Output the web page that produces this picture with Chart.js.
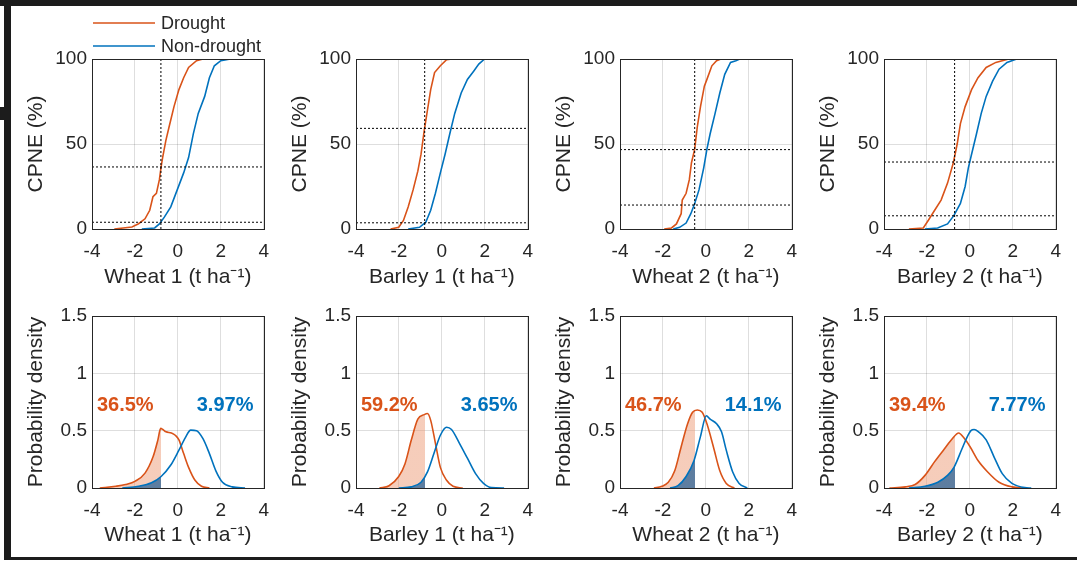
<!DOCTYPE html>
<html>
<head>
<meta charset="utf-8">
<script src="https://cdn.jsdelivr.net/npm/chart.js@4.4.1/dist/chart.umd.min.js"></script>
<style>
  html, body { margin: 0; padding: 0; background: #fff; }
  #page { position: relative; width: 1077px; height: 563px; overflow: hidden; background: #fff; }
  #page canvas { position: absolute; }
  .frame { position: absolute; background: #1c1c1c; z-index: 5; }
</style>
</head>
<body>
<div id="page">
  <div class="frame" style="left:0;top:0;width:1077px;height:6px"></div>
  <div class="frame" style="left:4px;top:0;width:7px;height:560px"></div>
  <div class="frame" style="left:0;top:107px;width:11px;height:13px"></div>
  <div class="frame" style="left:4px;top:557px;width:1073px;height:3px"></div>
</div>
<script>
// panels, left to right
var crops = ["Wheat 1", "Barley 1", "Wheat 2", "Barley 2"];
var thresholds = [-0.79, -0.8, -0.52, -0.71];
var droughtPct = [36.5, 59.2, 46.7, 39.4];
var nonDroughtPct = [3.97, 3.65, 14.1, 7.77];

// CPNE curves, [yield anomaly, %]
var wheat1DroughtCdf = [[-2.96,0],[-2.14,1.2],[-1.83,3.1],[-1.53,6],[-1.31,11],[-1.16,19],[-1.0,21],[-0.86,29],[-0.78,36.5],[-0.71,42],[-0.56,52],[-0.41,60],[-0.18,72],[0.05,82],[0.27,89],[0.5,95],[0.87,99],[1.17,100],[1.62,100]];
var wheat1NonCdf = [[-1.68,0],[-1.08,0.6],[-0.86,3],[-0.63,7],[-0.33,13],[-0.03,23],[0.27,33],[0.5,42],[0.72,56],[0.95,68],[1.25,78],[1.47,89],[1.7,96],[2.0,99],[2.45,100]];
var barley1DroughtCdf = [[-2.39,0],[-2.01,1],[-1.79,5],[-1.57,13],[-1.34,23],[-1.12,34],[-0.97,44],[-0.82,58],[-0.67,70],[-0.52,82],[-0.34,92],[-0.07,96],[0.22,99.6],[0.48,100]];
var barley1NonCdf = [[-1.57,0],[-1.04,1],[-0.75,4],[-0.52,11],[-0.3,21],[-0.07,33],[0.15,44],[0.37,56],[0.6,68],[0.9,80],[1.19,88],[1.49,93],[1.72,97],[1.99,100],[2.31,100]];
var wheat2DroughtCdf = [[-1.94,0],[-1.6,0.6],[-1.37,3],[-1.15,9],[-1.1,17],[-0.92,21],[-0.77,29],[-0.67,39],[-0.52,47],[-0.4,60],[-0.25,72],[-0.07,84],[0.05,88],[0.28,96],[0.5,99],[0.7,100]];
var wheat2NonCdf = [[-1.52,0],[-1.22,1],[-0.92,3.5],[-0.7,9],[-0.52,15],[-0.32,23],[-0.1,36],[0.05,47],[0.2,56],[0.43,68],[0.65,80],[0.88,91],[1.15,98],[1.4,99],[1.58,100]];
var barley2DroughtCdf = [[-2.84,0],[-2.17,0.6],[-1.94,5],[-1.64,11],[-1.34,17],[-1.04,27],[-0.77,39],[-0.59,50],[-0.44,62],[-0.22,72],[0.08,82],[0.38,89],[0.76,95],[1.21,98],[1.81,100]];
var barley2NonCdf = [[-2.1,0],[-1.5,0.6],[-1.04,3],[-0.74,8],[-0.44,15],[-0.22,25],[-0.07,36],[0.08,44],[0.31,56],[0.53,68],[0.76,78],[1.06,87],[1.36,94],[1.73,98],[2.18,100]];

// probability density curves, [yield anomaly, density]
var wheat1DroughtPdf = [[-3.64,0],[-2.89,0.015],[-2.44,0.03],[-1.98,0.06],[-1.53,0.13],[-1.16,0.27],[-0.93,0.42],[-0.8,0.52],[-0.7,0.51],[-0.55,0.49],[-0.3,0.48],[-0.12,0.46],[0.05,0.42],[0.27,0.3],[0.5,0.18],[0.8,0.067],[1.1,0.015],[1.47,0]];
var wheat1NonPdf = [[-2.59,0],[-1.83,0.015],[-1.23,0.045],[-0.78,0.1],[-0.33,0.2],[0.05,0.33],[0.35,0.44],[0.6,0.505],[0.87,0.5],[1.17,0.43],[1.47,0.3],[1.77,0.15],[2.08,0.05],[2.53,0.01],[3.13,0]];
var barley1DroughtPdf = [[-2.91,0],[-2.46,0.02],[-2.01,0.1],[-1.72,0.21],[-1.42,0.42],[-1.12,0.6],[-0.82,0.64],[-0.67,0.65],[-0.52,0.59],[-0.3,0.39],[-0.07,0.18],[0.22,0.067],[0.52,0.015],[0.97,0]];
var barley1NonPdf = [[-2.01,0],[-1.42,0.01],[-0.97,0.05],[-0.67,0.14],[-0.37,0.3],[-0.07,0.46],[0.22,0.53],[0.45,0.51],[0.82,0.39],[1.19,0.26],[1.57,0.125],[1.94,0.04],[2.31,0.003],[2.9,0]];
var wheat2DroughtPdf = [[-2.42,0],[-2.05,0.015],[-1.75,0.05],[-1.45,0.15],[-1.15,0.36],[-0.85,0.56],[-0.62,0.66],[-0.4,0.68],[-0.17,0.66],[0.05,0.56],[0.35,0.36],[0.65,0.15],[0.95,0.04],[1.33,0]];
var wheat2NonPdf = [[-1.67,0],[-1.3,0.02],[-0.92,0.1],[-0.55,0.24],[-0.25,0.45],[0.02,0.63],[0.2,0.6],[0.5,0.56],[0.73,0.49],[0.95,0.33],[1.25,0.14],[1.55,0.04],[1.93,0]];
var barley2DroughtPdf = [[-3.75,0],[-3.0,0.01],[-2.55,0.03],[-2.09,0.11],[-1.64,0.23],[-1.19,0.34],[-0.82,0.43],[-0.52,0.48],[-0.29,0.44],[0.01,0.36],[0.38,0.24],[0.83,0.14],[1.36,0.05],[1.96,0.01],[2.56,0]];
var barley2NonPdf = [[-2.84,0],[-2.09,0.015],[-1.49,0.05],[-1.04,0.11],[-0.74,0.18],[-0.37,0.34],[-0.14,0.44],[0.05,0.5],[0.2,0.51],[0.4,0.49],[0.76,0.42],[1.13,0.27],[1.51,0.125],[1.96,0.04],[2.56,0.003],[2.86,0]];

var droughtCdf = [wheat1DroughtCdf, barley1DroughtCdf, wheat2DroughtCdf, barley2DroughtCdf];
var nonCdf = [wheat1NonCdf, barley1NonCdf, wheat2NonCdf, barley2NonCdf];
var droughtPdf = [wheat1DroughtPdf, barley1DroughtPdf, wheat2DroughtPdf, barley2DroughtPdf];
var nonPdf = [wheat1NonPdf, barley1NonPdf, wheat2NonPdf, barley2NonPdf];

var ORANGE = "#D95319";
var BLUE = "#0072BD";
var TEXT = "#262626";
var GRID = "rgba(0,0,0,0.13)";
var FONT = "'Liberation Sans', Arial, Helvetica, sans-serif";
var plotLefts = [92, 356, 620, 884];
var PLOT_W = 178, YAXIS_W = 68, PAD_R = 10;

Chart.defaults.font.family = FONT;
Chart.defaults.color = TEXT;

function pts(arr) {
  return arr.map(function (p) { return { x: p[0], y: p[1] }; });
}

// fill colour that stops at the threshold
function shadeUpTo(color, thr) {
  return function (context) {
    var chart = context.chart;
    var a = chart.chartArea;
    if (!a || !chart.scales.x) return color;
    var xp = chart.scales.x.getPixelForValue(thr);
    var t = Math.max(0, Math.min(1, (xp - a.left) / (a.right - a.left)));
    var g = chart.ctx.createLinearGradient(a.left, 0, a.right, 0);
    g.addColorStop(0, color);
    g.addColorStop(t, color);
    g.addColorStop(t, "rgba(255,255,255,0)");
    g.addColorStop(1, "rgba(255,255,255,0)");
    return g;
  };
}

var boxPlugin = {
  id: "box",
  afterDraw: function (chart) {
    var a = chart.chartArea, ctx = chart.ctx;
    ctx.save();
    ctx.strokeStyle = TEXT;
    ctx.lineWidth = 1;
    ctx.strokeRect(Math.round(a.left) + 0.5, Math.round(a.top) + 0.5,
      Math.round(a.right) - Math.round(a.left), Math.round(a.bottom) - Math.round(a.top));
    ctx.restore();
  }
};

var legendPlugin = {
  id: "topLegend",
  afterDraw: function (chart) {
    var a = chart.chartArea, ctx = chart.ctx;
    var items = [[chart.data.datasets[0].label, ORANGE, a.top - 36], [chart.data.datasets[1].label, BLUE, a.top - 13]];
    ctx.save();
    ctx.font = "18px " + FONT;
    ctx.textBaseline = "middle";
    ctx.fillStyle = TEXT;
    items.forEach(function (it) {
      ctx.strokeStyle = it[1];
      ctx.lineWidth = 1.6;
      ctx.beginPath();
      ctx.moveTo(a.left + 1, it[2]);
      ctx.lineTo(a.left + 63, it[2]);
      ctx.stroke();
      ctx.fillText(it[0], a.left + 69, it[2] + 1);
    });
    ctx.restore();
  }
};

function pctPlugin(i) {
  return {
    id: "pct" + i,
    afterDraw: function (chart) {
      var ctx = chart.ctx, xs = chart.scales.x, ys = chart.scales.y;
      ctx.save();
      ctx.font = "bold 20px " + FONT;
      ctx.textAlign = "center";
      ctx.textBaseline = "middle";
      ctx.fillStyle = ORANGE;
      ctx.fillText(droughtPct[i] + "%", xs.getPixelForValue(-2.45), ys.getPixelForValue(0.72));
      ctx.fillStyle = BLUE;
      ctx.fillText(nonDroughtPct[i] + "%", xs.getPixelForValue(2.2), ys.getPixelForValue(0.72));
      ctx.restore();
    }
  };
}

function axes(i, top) {
  return {
    x: {
      type: "linear", min: -4, max: 4,
      afterFit: function (s) { s.height = top ? 61 : 60; },
      ticks: { stepSize: 2, padding: 11, autoSkip: false, maxRotation: 0, color: TEXT, font: { size: 19 } },
      grid: { color: GRID, drawTicks: false },
      border: { color: TEXT },
      title: { display: true, text: crops[i] + " (t ha\u207B\u00B9)", color: TEXT, font: { size: 21 }, padding: 0 }
    },
    y: {
      type: "linear", min: 0, max: top ? 100 : 1.5,
      afterFit: function (s) { s.width = YAXIS_W; },
      ticks: {
        stepSize: top ? 50 : 0.5, padding: 5, color: TEXT, font: { size: 19 },
        callback: function (v) { return String(v); }
      },
      grid: { color: GRID, drawTicks: false },
      border: { color: TEXT },
      title: { display: true, text: top ? "CPNE (%)" : "Probability density", color: TEXT, font: { size: 21 }, padding: 0 }
    }
  };
}

function makeCanvas(left, top, w, h) {
  var c = document.createElement("canvas");
  c.width = w; c.height = h;
  c.style.left = left + "px"; c.style.top = top + "px";
  c.style.width = w + "px"; c.style.height = h + "px";
  document.getElementById("page").appendChild(c);
  return c;
}

var lineBase = { pointRadius: 0, borderWidth: 1.6, fill: false, tension: 0 };
function line(label, data, color, order, extra) {
  return Object.assign({ label: label, data: data, borderColor: color, order: order }, lineBase, extra || {});
}
function dotted(data) {
  return line("", data, "#000", 0, { borderWidth: 1, borderDash: [2, 2] });
}

for (var i = 0; i < 4; i++) {
  var w = PLOT_W + YAXIS_W + PAD_R;
  var thr = thresholds[i];

  // top row: CPNE
  var topPlugins = [boxPlugin];
  if (i === 0) topPlugins.push(legendPlugin);
  new Chart(makeCanvas(plotLefts[i] - YAXIS_W, 0, w, 290), {
    type: "line",
    data: {
      datasets: [
        line("Drought", pts(droughtCdf[i]), ORANGE, 2),
        line("Non-drought", pts(nonCdf[i]), BLUE, 1),
        dotted([{ x: thr, y: 0 }, { x: thr, y: 100 }]),
        dotted([{ x: -4, y: droughtPct[i] }, { x: 4, y: droughtPct[i] }]),
        dotted([{ x: -4, y: nonDroughtPct[i] }, { x: 4, y: nonDroughtPct[i] }])
      ]
    },
    options: {
      responsive: false, animation: false, devicePixelRatio: 1,
      layout: { padding: { top: 59, right: PAD_R, left: 0, bottom: 0 } },
      plugins: { legend: { display: false }, tooltip: { enabled: false } },
      scales: axes(i, true)
    },
    plugins: topPlugins
  });

  // bottom row: probability density
  var smooth = { tension: 0.4, cubicInterpolationMode: "monotone" };
  new Chart(makeCanvas(plotLefts[i] - YAXIS_W, 290, w, 258), {
    type: "line",
    data: {
      datasets: [
        line("", pts(droughtPdf[i]), "rgba(0,0,0,0)", 4, Object.assign({ borderWidth: 0, fill: "origin",
          backgroundColor: shadeUpTo("rgba(236,150,112,0.48)", thr) }, smooth)),
        line("", pts(nonPdf[i]), "rgba(0,0,0,0)", 3, Object.assign({ borderWidth: 0, fill: "origin",
          backgroundColor: shadeUpTo("rgba(35,95,150,0.72)", thr) }, smooth)),
        line("Drought", pts(droughtPdf[i]), ORANGE, 2, smooth),
        line("Non-drought", pts(nonPdf[i]), BLUE, 1, smooth)
      ]
    },
    options: {
      responsive: false, animation: false, devicePixelRatio: 1,
      layout: { padding: { top: 26, right: PAD_R, left: 0, bottom: 0 } },
      plugins: { legend: { display: false }, tooltip: { enabled: false } },
      scales: axes(i, false)
    },
    plugins: [boxPlugin, pctPlugin(i)]
  });
}
</script>
</body>
</html>
